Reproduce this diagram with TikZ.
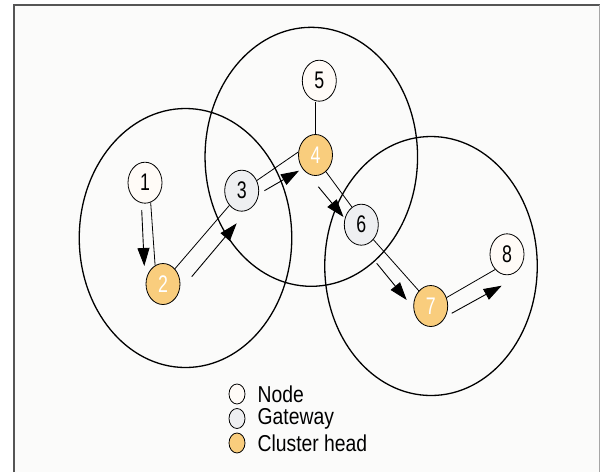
\documentclass[tikz,border=0pt]{standalone}
\usepackage{fontspec}
\setmainfont{Liberation Sans}
\usetikzlibrary{arrows.meta,shapes.geometric}
\definecolor{panel}{HTML}{FBFBFA}
\definecolor{headfill}{HTML}{F9CD7D}
\definecolor{gatefill}{HTML}{EEEFF1}
\definecolor{plainfill}{HTML}{FFFBF7}
\definecolor{framegray}{HTML}{555555}
\tikzset{
  clusterzone/.style={draw=black, line width=1.3pt, ellipse, minimum width=212.5pt, minimum height=259pt, inner sep=0pt},
  vertex/.style={draw=black, line width=0.8pt, ellipse, minimum width=34pt, minimum height=41pt, inner sep=0pt,
                 font=\fontsize{24}{24}\selectfont},
  plainnode/.style={vertex, fill=plainfill, text=black},
  gatenode/.style={vertex, fill=gatefill, text=black},
  headnode/.style={vertex, fill=headfill, text=white},
  keydot/.style={draw=black, line width=0.8pt, ellipse, minimum width=16pt, minimum height=20pt, inner sep=0pt},
  keytext/.style={anchor=west, inner sep=0pt, font=\fontsize{23}{23}\selectfont},
  link/.style={line width=0.8pt},
  flow/.style={line width=0.9pt, -{Triangle[length=18pt,width=12pt]}}
}
\newcommand{\narrow}[1]{\scalebox{0.74}[1]{#1}}
\newcommand{\keynarrow}[1]{\scalebox{0.84}[1]{#1}}
\begin{document}
\begin{tikzpicture}[x=1pt,y=-1pt]
  \useasboundingbox (0,0) rectangle (601,472);
  % panel and its frame
  \fill[panel] (13.5,5) rectangle (599.5,472);
  \draw[framegray, line width=2pt] (13.5,472) -- (13.5,5) -- (599.5,5);
  \draw[gray!70, line width=1pt] (599.5,5) -- (599.5,472);

  % cluster ranges
  \node[clusterzone] (c1) at (185.5,238) {};
  \node[clusterzone] (c2) at (311.3,156.8) {};
  \node[clusterzone] (c3) at (431,266) {};

  % sensor nodes
  \node[plainnode] (n1) at (145,182.7) {\narrow{1}};
  \node[headnode]  (n2) at (163,284)   {\narrow{2}};
  \node[gatenode]  (n3) at (241.7,190.7) {\narrow{3}};
  \node[headnode]  (n4) at (315.5,155) {\narrow{4}};
  \node[plainnode] (n5) at (319.3,80.7) {\narrow{5}};
  \node[gatenode]  (n6) at (361.3,224.7) {\narrow{6}};
  \node[headnode]  (n7) at (430.7,306) {\narrow{7}};
  \node[plainnode] (n8) at (507,254.3) {\narrow{8}};

  % links between nodes
  \draw[link] (n1.-74) -- (n2.113);
  \draw[link] (n2.52) -- (n3.-130);
  \draw[link] (n3.34) -- (n4.170);
  \draw[link] (n4.north) -- (n4.north |- n5.south);
  \draw[link] (n4.-58) -- (n6.118);
  \draw[link] (n6.-51) -- (n7.128);
  \draw[link] (n7.28) -- (n8.-128);

  % data flow towards the sink
  \coordinate (f12a) at (141.7,210);   \coordinate (f12b) at (144.3,266);
  \coordinate (f23a) at (191.7,276.7); \coordinate (f23b) at (236.7,223.3);
  \coordinate (f34a) at (264.4,190.7); \coordinate (f34b) at (299,170.7);
  \coordinate (f46a) at (318.3,186.7); \coordinate (f46b) at (343.5,217);
  \coordinate (f67a) at (376.7,263.3); \coordinate (f67b) at (406.7,300);
  \coordinate (f78a) at (451.7,313.3); \coordinate (f78b) at (501.7,285.7);
  \draw[flow] (f12a) -- (f12b);
  \draw[flow] (f23a) -- (f23b);
  \draw[flow] (f34a) -- (f34b);
  \draw[flow] (f46a) -- (f46b);
  \draw[flow] (f67a) -- (f67b);
  \draw[flow] (f78a) -- (f78b);

  % legend
  \node[keydot, fill=plainfill] (k1) at (237,394) {};
  \node[keydot, fill=gatefill]  (k2) at (237,418.5) {};
  \node[keydot, fill=headfill]  (k3) at (237,443) {};
  \node[keytext] (t1) at (257.5,394) {\keynarrow{Node}};
  \node[keytext] (t2) at (257.5,418.5) {\keynarrow{Gateway}};
  \node[keytext] (t3) at (257.5,443) {\keynarrow{Cluster head}};
\end{tikzpicture}
\end{document}
